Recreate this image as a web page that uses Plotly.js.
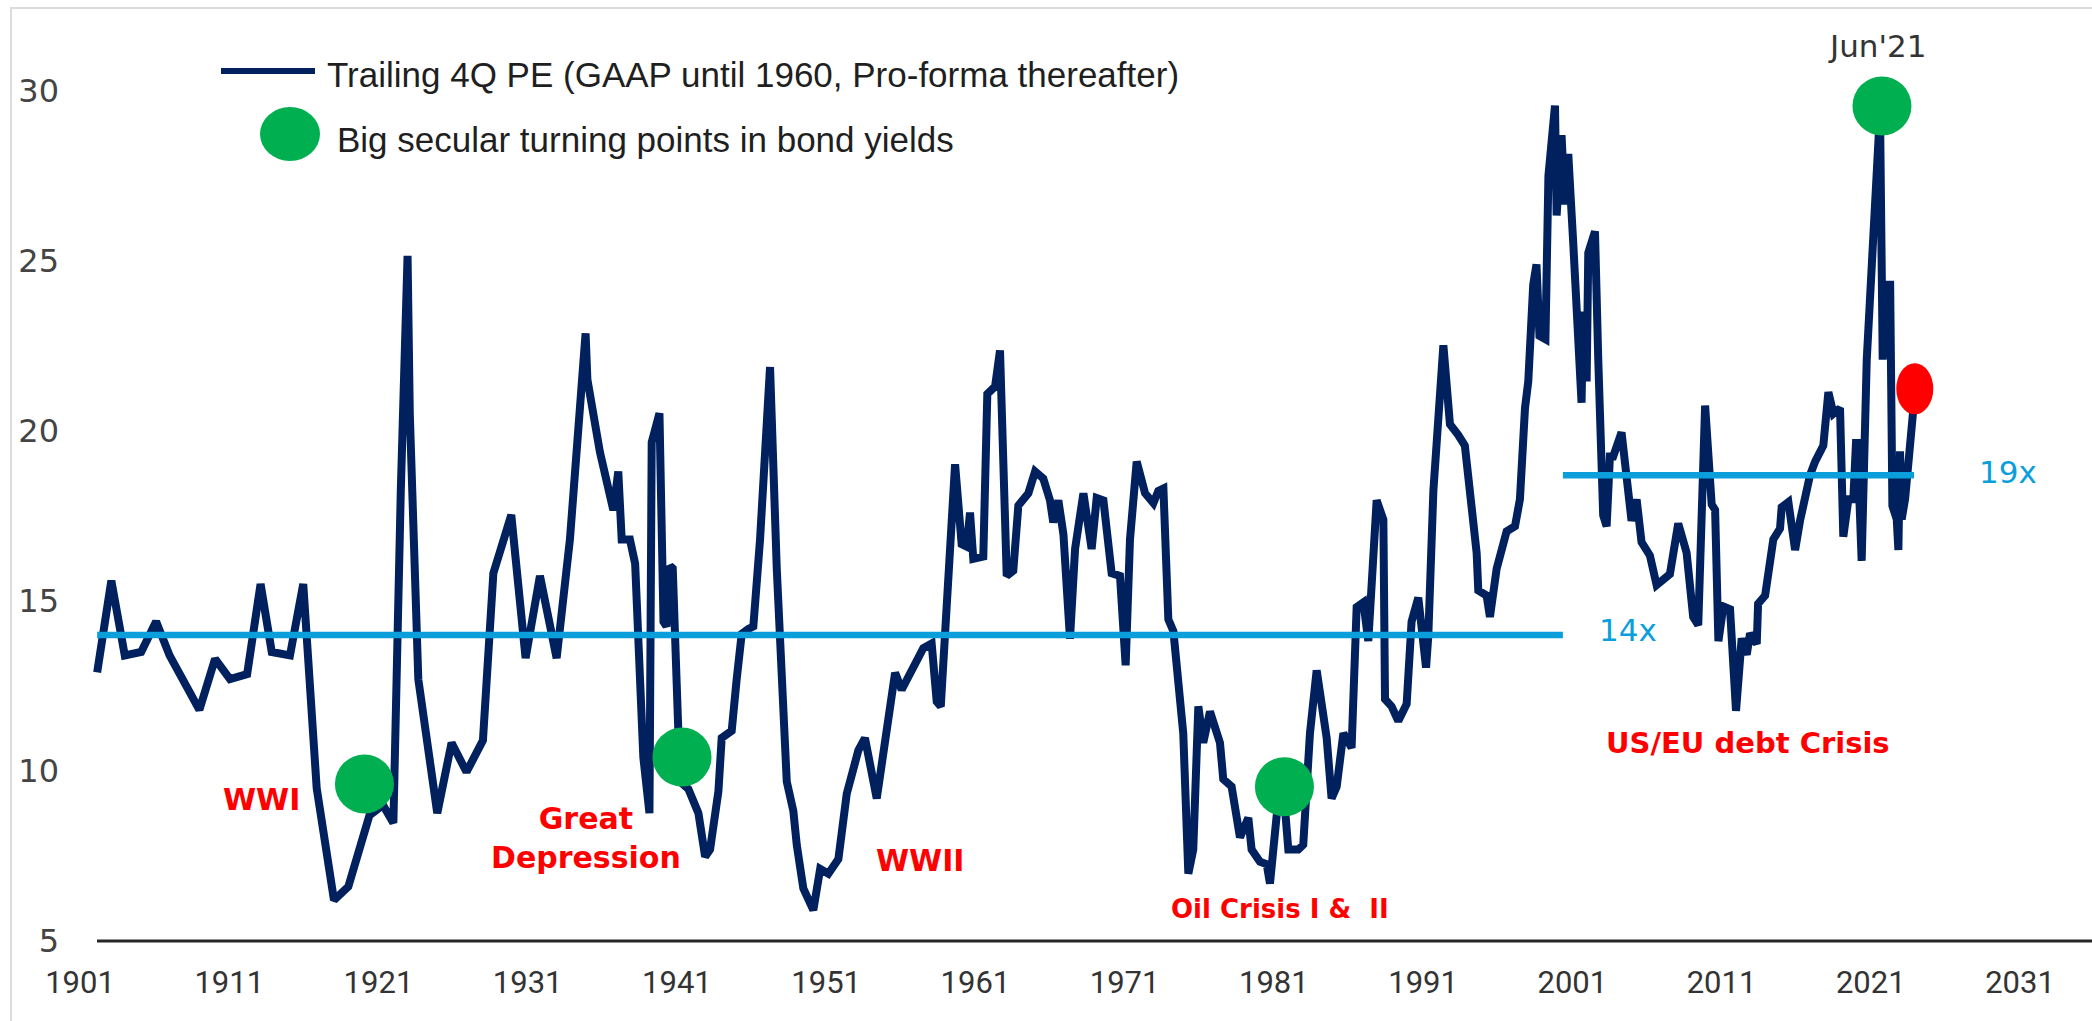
<!DOCTYPE html>
<html>
<head>
<meta charset="utf-8">
<script src="https://cdn.plot.ly/plotly-3.0.1.min.js"></script>
<style>
  html, body { margin: 0; padding: 0; background: #ffffff; }
  #wrap { position: relative; width: 2092px; height: 1021px; overflow: hidden; }
  #frame { position: absolute; left: 10px; top: 7px; right: -5px; bottom: -5px;
           border-left: 2px solid #dcdcdc; border-top: 2px solid #dcdcdc; }
  #chart { position: absolute; left: 0; top: 0; width: 2092px; height: 1021px; }
</style>
</head>
<body>
<div id="wrap"><div id="frame"></div><div id="chart"></div></div>
<script>
// ---- Data ----
const years = [
  1902.15,1903.1,1904.0,1905.1,1906.1,1907.0,1909.0,1910.05,1911.05,1912.2,1913.1,1913.85,1915.07,1915.96,
  1916.86,1918.02,1918.98,1920.4,1921.3,1922.0,1922.5,1922.95,1923.1,1923.67,1924.94,1925.9,1926.9,1928.0,
  1928.7,1929.9,1930.86,1931.82,1932.94,1933.83,1934.88,1935.0,1935.84,1936.74,1937.07,1937.3,1937.85,
  1938.2,1938.75,1939.16,1939.31,1939.83,1940.1,1940.3,1940.54,1940.72,1941.21,1941.77,1942.44,1942.89,
  1943.22,1943.78,1944.0,1944.67,1945.0,1945.34,1945.79,1946.12,1946.57,1947.24,1947.69,1948.36,1948.8,
  1949.03,1949.47,1950.14,1950.6,1951.15,1951.82,1952.38,1953.16,1953.6,1954.39,1955.06,1955.62,1956.06,
  1956.84,1957.51,1958.07,1958.41,1958.68,1959.19,1959.64,1960.08,1960.42,1960.64,1960.86,1961.53,1961.8,
  1962.32,1962.65,1963.1,1963.54,1963.88,1964.55,1965.0,1965.55,1966.0,1966.22,1966.56,1966.9,1967.34,
  1967.68,1968.24,1968.79,1969.13,1969.58,1970.13,1970.69,1971.07,1971.36,1971.81,1972.37,1972.93,1973.26,
  1973.6,1973.93,1974.27,1974.93,1975.27,1975.6,1975.94,1976.27,1976.72,1977.39,1977.61,1978.17,1978.73,
  1979.29,1979.51,1980.07,1980.52,1980.74,1981.19,1981.63,1981.97,1982.64,1982.97,1983.42,1983.87,1984.54,
  1984.87,1985.21,1985.66,1986.21,1986.55,1987.0,1987.33,1987.89,1988.34,1988.45,1988.89,1989.34,1989.9,
  1990.23,1990.68,1990.9,1991.2,1991.35,1991.69,1992.36,1992.8,1993.36,1993.8,1994.59,1994.7,1995.26,
  1995.48,1995.93,1996.6,1997.16,1997.49,1997.83,1998.05,1998.38,1998.6,1998.8,1999.2,1999.4,1999.84,
  1999.95,2000.28,2000.5,2000.73,2001.06,2001.62,2001.73,2001.96,2002.07,2002.52,2002.74,2003.07,2003.3,
  2003.52,2003.74,2004.3,2004.97,2005.31,2005.64,2006.2,2006.65,2007.54,2008.1,2008.66,2009.1,2009.44,
  2009.9,2010.34,2010.57,2010.79,2011.12,2011.57,2011.97,2012.35,2012.69,2012.91,2013.36,2013.45,2013.92,
  2014.47,2014.92,2015.03,2015.48,2015.93,2016.26,2016.93,2017.27,2017.82,2018.16,2018.5,2018.94,2019.16,
  2019.5,2019.83,2020.01,2020.1,2020.39,2020.73,2021.17,2021.62,2021.8,2022.1,2022.3,2022.45,2022.74,
  2022.85,2022.96,2023.07,2023.3,2023.52,2023.86,2023.97
];
const pe = [
  12.9,15.6,13.4,13.5,14.4,13.4,11.8,13.3,12.7,12.85,15.5,13.5,13.4,15.5,
  9.5,6.2,6.6,8.7,9.0,8.47,18.3,25.15,20.5,12.7,8.76,10.83,9.97,10.9,
  15.82,17.53,13.32,15.74,13.32,16.81,22.87,21.52,19.38,17.67,18.81,16.81,16.81,
  16.1,10.4,8.76,19.67,20.52,14.39,14.25,16.03,15.96,9.69,9.47,8.76,7.48,
  7.69,9.4,10.97,11.18,12.68,14.03,14.18,14.25,16.81,21.88,15.96,9.69,8.83,
  7.83,6.55,5.91,7.12,6.98,7.41,9.33,10.61,10.97,9.19,11.25,12.89,12.39,
  13.04,13.61,13.75,12.04,11.9,15.39,19.02,16.67,16.6,17.6,16.24,16.31,21.09,
  21.31,22.37,15.74,15.89,17.81,18.17,18.81,18.6,17.96,17.31,17.96,16.96,13.89,
  16.53,18.17,16.53,18.03,17.96,15.82,15.74,13.11,16.81,19.1,18.17,17.88,18.24,
  18.31,14.46,14.11,11.11,6.98,7.69,11.9,10.83,11.75,10.83,9.76,9.54,8.05,
  8.62,7.69,7.33,7.26,6.69,8.69,9.54,7.69,7.69,7.83,11.11,12.96,10.97,
  9.19,9.54,11.11,10.68,14.82,14.96,13.82,17.96,17.39,12.11,11.9,11.47,11.97,
  14.39,15.1,14.39,13.04,13.96,18.24,22.52,20.2,19.88,19.57,16.42,15.31,15.16,
  14.53,15.95,17.05,17.2,17.99,20.67,21.46,24.3,24.9,22.8,22.7,27.5,29.57,
  26.34,28.7,26.66,28.15,25.55,20.83,23.51,21.46,25.24,25.87,22.09,17.52,17.2,
  19.25,19.25,19.96,17.36,17.99,16.73,16.34,15.47,15.79,17.28,16.42,14.53,14.29,
  20.75,17.84,17.68,13.82,14.84,14.76,11.77,13.9,13.42,14.05,13.74,14.92,15.16,
  16.81,17.13,17.76,17.91,16.5,17.36,18.7,19.1,19.57,21.14,20.51,20.67,16.89,
  17.99,17.99,19.65,19.65,16.18,22.09,25.71,29.4,22.1,24.3,24.3,17.8,17.4,
  16.5,19.4,17.4,18.0,19.0,20.7,21.2
];

// Big secular turning points in bond yields
const turnYears = [1920.06, 1941.34, 1981.71, 2021.75];
const turnPE    = [9.62, 10.41, 9.54, 29.56];

// Latest reading (red dot)
const latestYear = [2023.95];
const latestPE   = [21.24];

// Average levels
const avgLabels = ['14x', '19x'];
const avgLevels = [14, 18.7];
const avgFrom   = [1902.15, 2000.37];
const avgTo     = [2000.37, 2023.9];

// Event labels
const eventLabels = ['<b>WWI</b>', '<b>Great<br>Depression</b>', '<b>WWII</b>', '<b>Oil Crisis I &amp;  II</b>', '<b>US/EU debt Crisis</b>'];
const eventSizes  = [30, 30, 30, 26, 29];
const eventYears  = [1913.13, 1934.9, 1957.29, 1981.41, 2012.77];
const eventPE     = [9.15, 8.03, 7.38, 5.94, 10.82];

const peakLabel = "Jun'21";
const peakLabelYear = 2021.42;
const peakLabelPE = 31.32;
const avgLabelYears = [2004.73, 2030.2];
const avgLabelPE = [14.15, 18.79];

const xTicks = [1901,1911,1921,1931,1941,1951,1961,1971,1981,1991,2001,2011,2021,2031];
const yTicks = [5,10,15,20,25,30];

const legendLine = 'Trailing 4Q PE (GAAP until 1960, Pro-forma thereafter)';
const legendDot  = 'Big secular turning points in bond yields';

// ---- Styling ----
const NAVY = '#00215e';
const BLUE = '#0a9fdb';
const GREEN = '#00b050';
const RED = '#ff0000';

const traces = [
  { x: years, y: pe, type: 'scatter', mode: 'lines',
    line: { color: NAVY, width: 8, shape: 'linear' }, hoverinfo: 'skip' }
];
avgLevels.forEach((lv, i) => {
  traces.push({ x: [avgFrom[i], avgTo[i]], y: [lv, lv], type: 'scatter', mode: 'lines',
    line: { color: BLUE, width: 6.5 }, hoverinfo: 'skip' });
});
traces.push({ x: turnYears, y: turnPE, type: 'scatter', mode: 'markers',
  marker: { color: GREEN, size: 59, line: { width: 0 } }, hoverinfo: 'skip', cliponaxis: false });

const plotL = 78, plotR = 2092, plotT = 40, plotB = 941;
const pxPerYear = 14.923, x1901px = 80;
const xr0 = 1901 + (plotL - x1901px) / pxPerYear;
const xr1 = 1901 + (plotR - x1901px) / pxPerYear;
const pw = plotR - plotL, ph = plotB - plotT;
const px2paperX = p => (p - plotL) / pw;
const py2paperY = p => (plotB - p) / ph;

const annotations = [];
eventLabels.forEach((t, i) => {
  annotations.push({ x: eventYears[i], y: eventPE[i], xref: 'x', yref: 'y', text: t, showarrow: false,
    xanchor: 'center', yanchor: 'middle', align: 'center',
    font: { family: 'DejaVu Sans, Verdana, sans-serif', size: eventSizes[i], color: RED } });
});
avgLabels.forEach((t, i) => {
  annotations.push({ x: avgLabelYears[i], y: avgLabelPE[i], xref: 'x', yref: 'y', text: t, showarrow: false,
    xanchor: 'center', yanchor: 'middle',
    font: { family: 'DejaVu Sans, Verdana, sans-serif', size: 31, color: BLUE } });
});
annotations.push({ x: peakLabelYear, y: peakLabelPE, xref: 'x', yref: 'y', text: peakLabel, showarrow: false,
  xanchor: 'center', yanchor: 'middle',
  font: { family: 'DejaVu Sans, Verdana, sans-serif', size: 31, color: '#333333' } });
// legend texts
annotations.push({ x: px2paperX(325), y: py2paperY(74), xref: 'paper', yref: 'paper', text: legendLine,
  showarrow: false, xanchor: 'left', yanchor: 'middle',
  font: { family: 'Liberation Sans, Arial, sans-serif', size: 35, color: '#1f1f1f' } });
annotations.push({ x: px2paperX(335), y: py2paperY(139), xref: 'paper', yref: 'paper', text: legendDot,
  showarrow: false, xanchor: 'left', yanchor: 'middle',
  font: { family: 'Liberation Sans, Arial, sans-serif', size: 35, color: '#1f1f1f' } });

const shapes = [
  // x axis baseline (starts where the series starts)
  { type: 'line', xref: 'paper', yref: 'paper', x0: px2paperX(97), x1: 1, y0: 0, y1: 0,
    line: { color: '#262626', width: 3 }, layer: 'below' },
  // legend line sample
  { type: 'line', xref: 'paper', yref: 'paper', x0: px2paperX(221), x1: px2paperX(315),
    y0: py2paperY(71), y1: py2paperY(71), line: { color: NAVY, width: 6 } },
  // legend green ellipse
  { type: 'circle', xref: 'paper', yref: 'paper', xsizemode: 'pixel', ysizemode: 'pixel',
    xanchor: px2paperX(290), yanchor: py2paperY(134), x0: -30, x1: 30, y0: -27, y1: 27,
    fillcolor: GREEN, line: { width: 0 } },
  // latest reading: red ellipse
  { type: 'circle', xref: 'x', yref: 'y', xsizemode: 'pixel', ysizemode: 'pixel',
    xanchor: latestYear[0], yanchor: latestPE[0], x0: -18.5, x1: 18.5, y0: -25.5, y1: 25.5,
    fillcolor: RED, line: { width: 0 } }
];

const layout = {
  width: 2092, height: 1021,
  margin: { l: plotL, r: 2092 - plotR, t: plotT, b: 1021 - plotB, pad: 0 },
  paper_bgcolor: 'rgba(0,0,0,0)', plot_bgcolor: 'rgba(0,0,0,0)',
  showlegend: false,
  xaxis: {
    range: [xr0, xr1], tickmode: 'array', tickvals: xTicks, ticktext: xTicks.map(String),
    showgrid: false, zeroline: false, showline: false,
    ticks: '', ticklabelstandoff: 20,
    tickfont: { family: 'Liberation Sans Narrow, Arial Narrow, Roboto, sans-serif', size: 31, color: '#333333' }
  },
  yaxis: {
    range: [5, 31.5], tickmode: 'array', tickvals: yTicks, ticktext: yTicks.map(String),
    showgrid: false, zeroline: false, showline: false, ticks: '', ticklabelstandoff: 18,
    tickfont: { family: 'DejaVu Sans, Verdana, sans-serif', size: 32, color: '#444444' }
  },
  annotations: annotations,
  shapes: shapes
};

Plotly.newPlot('chart', traces, layout, { staticPlot: true, displayModeBar: false });
</script>
</body>
</html>
